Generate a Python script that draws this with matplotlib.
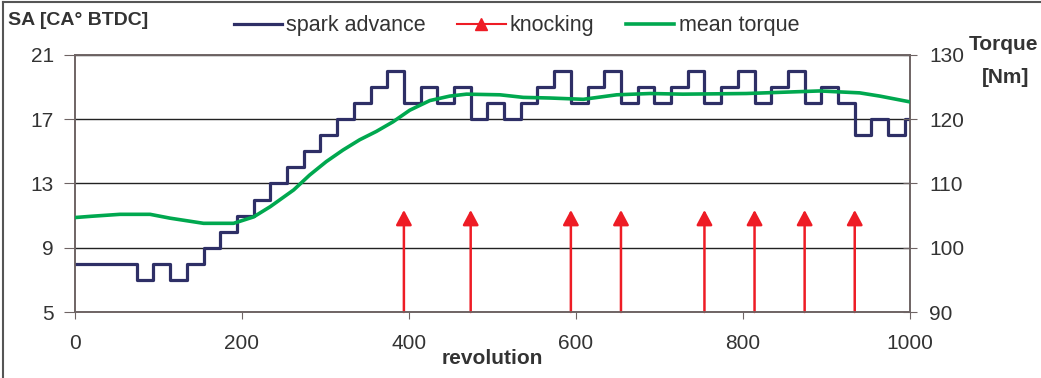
import matplotlib
matplotlib.use("Agg")
import matplotlib.pyplot as plt
from matplotlib.lines import Line2D

plt.rcParams['font.family'] = ['Liberation Sans', 'DejaVu Sans']

# spark advance: step starts (revolution) and levels (CA deg BTDC)
sa_rev = [0, 74, 94, 114, 134, 154, 174, 194, 214, 234, 254, 274, 294, 314, 334, 354,
          374, 394, 414, 434, 454, 474, 494, 514, 534, 554, 574, 594, 614, 634, 654,
          674, 694, 714, 734, 754, 774, 794, 814, 834, 854, 874, 894, 914, 934, 954,
          974, 994, 1000]
sa_val = [8, 7, 8, 7, 8, 9, 10, 11, 12, 13, 14, 15, 16, 17, 18, 19,
          20, 18, 19, 18, 19, 17, 18, 17, 18, 19, 20, 18, 19, 20, 18,
          19, 18, 19, 20, 18, 19, 20, 18, 19, 20, 18, 19, 18, 16, 17,
          16, 17, 17]

# knocking events
knock_rev = [394, 474, 594, 654, 754, 814, 874, 934]
knock_top = 11.35

# mean torque (Nm)
tq_rev = [0, 20, 54, 90, 114, 154, 190, 214, 234, 262, 281, 301, 321, 341, 361, 381,
          401, 425, 449, 469, 509, 537, 569, 609, 649, 689, 728, 804, 892, 940, 964, 1000]
tq_val = [104.7, 104.9, 105.2, 105.2, 104.6, 103.8, 103.8, 104.8, 106.4, 109.0, 111.3,
          113.4, 115.2, 116.8, 118.1, 119.6, 121.4, 122.9, 123.6, 123.9, 123.8, 123.4,
          123.3, 123.1, 123.8, 124.0, 123.9, 124.0, 124.4, 124.1, 123.6, 122.7]

navy = '#2e2f66'
red = '#ee1c25'
green = '#00a84f'
txt = '#333333'
spc = '#6e6464'
fs = 15

fig = plt.figure(figsize=(10.41, 3.78), dpi=100)
ax = fig.add_axes([0.072, 0.1746, 0.802, 0.68])

ax.step(sa_rev, sa_val, where='post', color=navy, lw=2.3, zorder=3)
for k in knock_rev:
    ax.annotate('', xy=(k, knock_top), xytext=(k, 5),
                arrowprops=dict(arrowstyle='-|>,head_length=0.45,head_width=0.24',
                                color=red, lw=1.8, mutation_scale=20,
                                shrinkA=0, shrinkB=0), zorder=4)

ax.set_xlim(0, 1000)
ax.set_ylim(5, 21)
ax.set_xticks(range(0, 1001, 200))
ax.set_yticks([5, 9, 13, 17, 21])
ax.yaxis.grid(True, color='#222222', lw=1)
ax.set_axisbelow(True)
ax.tick_params(axis='both', labelsize=fs, labelcolor=txt, color=spc)
ax.tick_params(axis='x', length=5, pad=11)
ax.tick_params(axis='y', length=8, pad=7)
for s in ax.spines.values():
    s.set_color(spc)
    s.set_linewidth(1.2)

ax2 = ax.twinx()
ax2.plot(tq_rev, tq_val, color=green, lw=2.6, zorder=3)
ax2.set_ylim(90, 130)
ax2.set_yticks(range(90, 131, 10))
ax2.tick_params(axis='y', labelsize=fs, labelcolor=txt, color=spc,
                direction='inout', length=10, pad=9)
for s in ax2.spines.values():
    s.set_color(spc)
    s.set_linewidth(1.2)

ax.set_xlabel('revolution', fontsize=fs, fontweight='bold', color=txt, labelpad=-3)
fig.text(0.008, 0.947, 'SA [CA° BTDC]', fontsize=14, fontweight='bold', color=txt,
         ha='left', va='center')
fig.text(0.9635, 0.881, 'Torque', fontsize=fs, fontweight='bold', color=txt,
         ha='center', va='center')
fig.text(0.9655, 0.794, '[Nm]', fontsize=fs, fontweight='bold', color=txt,
         ha='center', va='center')

handles = [Line2D([], [], color=navy, lw=2.3),
           Line2D([], [], color=red, lw=1.5, marker='^', markersize=9),
           Line2D([], [], color=green, lw=2.6)]
fig.legend(handles, ['spark advance', 'knocking', 'mean torque'],
           loc='center', bbox_to_anchor=(0.496, 0.932), ncol=3, frameon=False,
           fontsize=15.5, handlelength=2.25, handletextpad=0.2, columnspacing=1.45,
           labelcolor=txt)

fig.add_artist(Line2D([0.003, 0.003], [0, 0.995], color='#555555', lw=1.5))
fig.add_artist(Line2D([0.003, 1], [0.995, 0.995], color='#555555', lw=1.5))

fig.savefig('out.png', dpi=100)
